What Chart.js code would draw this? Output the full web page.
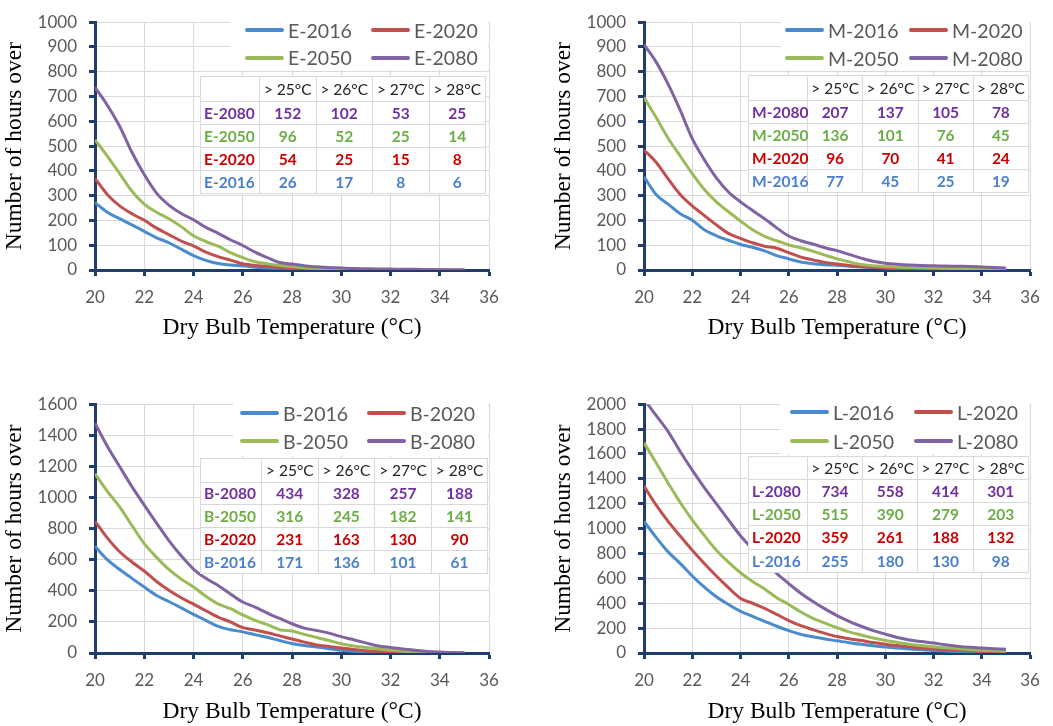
<!DOCTYPE html>
<html><head><meta charset="utf-8">
<script src="https://cdn.jsdelivr.net/npm/chart.js@4/dist/chart.umd.min.js"></script>
<style>
html,body{margin:0;padding:0;background:#fff;}
body{width:1053px;height:726px;position:relative;overflow:hidden;font-family:Lato,sans-serif;}
canvas{position:absolute;}
.lgbox{position:absolute;background:#fff;}
.li{position:absolute;display:flex;align-items:center;height:26px;font-size:19.5px;color:#595959;white-space:nowrap;font-family:Lato,sans-serif;}
.li .sw{display:inline-block;width:39px;height:4px;margin-right:4px;border-radius:2px;}
.tbl{position:absolute;background:#fff;display:grid;border-left:1px solid #d9d9d9;border-top:1px solid #d9d9d9;box-sizing:border-box;}
.tbl div{border-right:1px solid #d9d9d9;border-bottom:1px solid #d9d9d9;display:flex;align-items:center;justify-content:center;font-size:15.5px;font-weight:700;white-space:nowrap;box-sizing:border-box;font-family:Lato,sans-serif;}
.tbl div.hd{font-weight:400;color:#222;font-size:15.5px;}
.tbl div.lb{justify-content:flex-start;padding-left:3px;}
</style></head><body>
<script>
// ---------- DATA ----------
const temps = [20,20.5,21,21.5,22,22.5,23,23.5,24,24.5,25,25.5,26,26.5,27,27.5,28,28.5,29,29.5,30,30.5,31,31.5,32,32.5,33,33.5,34,34.5,35];
const years = ['2016','2020','2050','2080'];
const thresholds = ['> 25°C','> 26°C','> 27°C','> 28°C'];
const xTicksMin = 20, xTicksMax = 36, xStep = 2;

const E2016 = [272,233,207,182,156,130,110,84,58,39,26,20,17,11,8,7,6,4,2,1,1,0,0,0,0,0,0,0,0,0,0];
const E2020 = [370,305,259,227,201,169,143,117,97,72,54,40,25,18,15,10,8,5,3,2,2,1,1,0,0,0,0,0,0,0,0];
const E2050 = [525,460,389,318,266,233,207,175,138,115,96,70,50,33,25,18,14,9,6,4,3,2,2,1,1,1,0,0,0,0,0];
const E2080 = [737,665,580,475,385,310,262,228,203,172,148,122,99,72,50,30,24,17,13,10,8,6,5,4,4,3,3,2,1,0,0];

const M2016 = [376,305,266,227,201,162,138,120,103,92,77,58,45,32,25,21,19,15,12,10,8,6,5,4,3,2,2,1,1,0,0];
const M2020 = [484,435,368,305,259,220,182,148,128,110,96,88,70,52,41,30,24,18,14,11,9,7,6,5,4,3,3,2,1,1,0];
const M2050 = [697,616,532,460,389,325,275,235,198,162,136,118,101,90,76,60,45,33,22,17,14,12,10,9,8,7,6,5,4,3,2];
const M2080 = [910,840,750,645,530,445,372,315,275,240,207,170,137,118,105,90,78,63,48,35,27,23,20,18,17,16,15,14,12,10,8];

const B2016 = [686,600,537,480,424,370,331,290,248,210,171,150,136,118,101,80,61,48,38,28,18,12,8,5,3,2,1,0,0,0,0];
const B2020 = [847,740,651,585,527,460,403,355,314,272,231,200,163,148,130,110,90,70,52,42,32,22,15,10,7,4,3,2,1,0,0];
const B2050 = [1153,1040,940,820,703,615,537,475,424,365,316,285,245,210,182,150,141,120,100,80,60,45,35,25,18,12,8,5,3,1,0];
const B2080 = [1478,1330,1199,1070,951,835,723,625,540,480,434,380,328,295,257,222,188,160,145,128,105,85,65,45,35,25,17,10,6,3,0];

const L2016 = [1058,930,813,720,619,530,452,390,335,295,255,215,180,150,130,112,98,83,70,58,48,40,32,26,20,16,12,9,7,5,4];
const L2020 = [1342,1190,1058,940,826,720,619,525,439,400,359,310,261,220,188,158,132,115,100,84,70,60,50,40,32,27,22,18,14,11,8];
const L2050 = [1690,1530,1367,1210,1071,945,826,730,645,575,515,445,390,330,279,240,203,170,145,120,100,85,70,60,50,42,35,28,22,18,14];
const L2080 = [2040,1910,1780,1620,1470,1330,1200,1070,942,835,734,640,558,480,414,355,301,255,215,180,152,125,105,92,80,66,55,46,40,35,30];

// hours over thresholds (rows: 2016, 2020, 2050, 2080)
const tableE = [[26,17,8,6],[54,25,15,8],[96,52,25,14],[152,102,53,25]];
const tableM = [[77,45,25,19],[96,70,41,24],[136,101,76,45],[207,137,105,78]];
const tableB = [[171,136,101,61],[231,163,130,90],[316,245,182,141],[434,328,257,188]];
const tableL = [[255,180,130,98],[359,261,188,132],[515,390,279,203],[734,558,414,301]];

const yMaxE = 1000, yMaxM = 1000, yMaxB = 1600, yMaxL = 2000;
const yStepE = 100, yStepM = 100, yStepB = 200, yStepL = 200;

// ---------- STYLE / LAYOUT ----------
const lineColors = ['#4A8BD0','#C0504D','#9BBB59','#8064A2'];
const textColors = ['#4A7FD0','#CC0000','#6DAD45','#7030A0'];
const axisColor = '#1F3E6E';

const panels = [
 {code:'E', series:[E2016,E2020,E2050,E2080], table:tableE, yMax:yMaxE, yStep:yStepE,
  left:0, top:0, w:520, h:345, padR:31, xH:75, tPad:3.2,
  lg:{l:230,t:15,r:488,b:70,x0:245,pitch:126,y0:30,dy:27.5},
  tb:{l:200,t:76,labelW:59,colW:56.5,hdH:25,rowH:23}},
 {code:'M', series:[M2016,M2020,M2050,M2080], table:tableM, yMax:yMaxM, yStep:yStepM,
  left:549, top:0, w:504, h:345, padR:23, xH:75, tPad:3.2,
  lg:{l:781,t:15,r:1029,b:70,x0:785,pitch:124,y0:30,dy:28},
  tb:{l:748,t:75,labelW:59,colW:55.25,hdH:24.5,rowH:23}},
 {code:'B', series:[B2016,B2020,B2050,B2080], table:tableB, yMax:yMaxB, yStep:yStepB,
  left:0, top:382, w:520, h:344, padR:31, xH:73, tPad:0.2,
  lg:{l:233,t:397,r:488,b:456,x0:240,pitch:127,y0:413,dy:28},
  tb:{l:200,t:458,labelW:61,colW:56.6,hdH:23.5,rowH:22.8}},
 {code:'L', series:[L2016,L2020,L2050,L2080], table:tableL, yMax:yMaxL, yStep:yStepL,
  left:549, top:382, w:504, h:344, padR:23, xH:73, tPad:0.2,
  lg:{l:780,t:397,r:1029,b:454,x0:790,pitch:124,y0:412,dy:29},
  tb:{l:748,t:456,labelW:59,colW:55.2,hdH:23,rowH:23.2}}
];

const tickFont = {family:'Lato', size:17};
const titleFont = {family:'Liberation Serif', size:23.5};

panels.forEach(p => {
  const cv = document.createElement('canvas');
  cv.width = p.w; cv.height = p.h;
  cv.style.left = p.left + 'px'; cv.style.top = p.top + 'px';
  cv.style.width = p.w + 'px'; cv.style.height = p.h + 'px';
  document.body.appendChild(cv);

  const datasets = p.series.map((arr, i) => ({
    label: p.code + '-' + years[i],
    data: temps.map((t, k) => ({x: t, y: arr[k]})),
    borderColor: lineColors[i],
    backgroundColor: lineColors[i],
    borderWidth: 3,
    pointRadius: 0,
    fill: false,
    cubicInterpolationMode: 'monotone',
    order: 3 - i
  }));

  new Chart(cv, {
    type: 'line',
    data: {datasets},
    options: {
      responsive: false, animation: false, devicePixelRatio: 1,
      layout: {padding: {left: 0, top: 13, right: p.padR, bottom: 0}},
      plugins: {legend: {display: false}, tooltip: {enabled: false}},
      scales: {
        x: {
          type: 'linear', min: xTicksMin, max: xTicksMax,
          ticks: {stepSize: xStep, padding: 11, color: '#595959', font: tickFont, callback: v => String(v), maxRotation: 0},
          grid: {color: '#D9D9D9', lineWidth: 1, tickColor: axisColor, tickWidth: 3, tickLength: 6},
          border: {color: axisColor, width: 3},
          title: {display: true, text: 'Dry Bulb Temperature (°C)', color: '#000', font: titleFont, padding: {top: 0, bottom: p.tPad}},
          afterFit: s => { s.height = p.xH; }
        },
        y: {
          min: 0, max: p.yMax,
          ticks: {stepSize: p.yStep, padding: 12, color: '#595959', font: tickFont, callback: v => String(v)},
          grid: {color: '#D9D9D9', lineWidth: 1, tickColor: axisColor, tickWidth: 3, tickLength: 6},
          border: {color: axisColor, width: 3},
          title: {display: true, text: 'Number of hours over', color: '#000', font: titleFont, padding: {top: 1, bottom: 0}},
          afterFit: s => { s.width = 95; }
        }
      }
    }
  });

  // legend
  const g = p.lg;
  const box = document.createElement('div');
  box.className = 'lgbox';
  box.style.cssText = `left:${g.l}px;top:${g.t}px;width:${g.r-g.l}px;height:${g.b-g.t}px;`;
  document.body.appendChild(box);
  years.forEach((yr, i) => {
    const col = i % 2, row = Math.floor(i / 2);
    const it = document.createElement('div');
    it.className = 'li';
    it.style.left = (g.x0 + col * g.pitch) + 'px';
    it.style.top = (g.y0 + row * g.dy - 13) + 'px';
    it.innerHTML = `<span class="sw" style="background:${lineColors[i]}"></span>${p.code}-${yr}`;
    document.body.appendChild(it);
  });

  // table
  const tb = p.tb;
  const t = document.createElement('div');
  t.className = 'tbl';
  t.style.left = tb.l + 'px'; t.style.top = tb.t + 'px';
  t.style.gridTemplateColumns = `${tb.labelW}px repeat(4, ${tb.colW}px)`;
  t.style.gridTemplateRows = `${tb.hdH}px repeat(4, ${tb.rowH}px)`;
  let html = '<div></div>' + thresholds.map(s => `<div class="hd">${s}</div>`).join('');
  for (let r = 3; r >= 0; r--) {
    const c = textColors[r];
    html += `<div class="lb" style="color:${c}">${p.code}-${years[r]}</div>`;
    html += p.table[r].map(v => `<div style="color:${c}">${v}</div>`).join('');
  }
  t.innerHTML = html;
  document.body.appendChild(t);
});
</script>
</body></html>
